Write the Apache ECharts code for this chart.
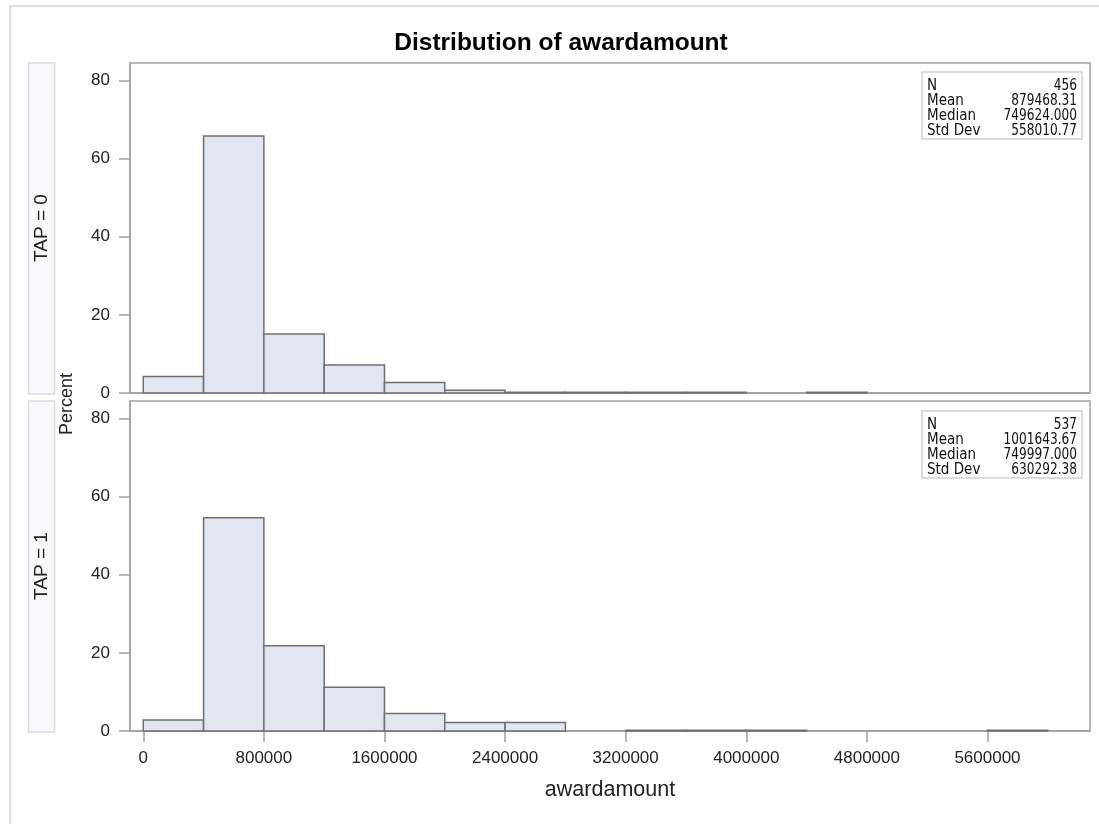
<!DOCTYPE html>
<html>
<head>
<meta charset="utf-8">
<script src="https://cdn.jsdelivr.net/npm/echarts@6/dist/echarts.min.js"></script>
<style>
  html, body { margin: 0; padding: 0; background: #ffffff; }
  #chart { width: 1099px; height: 824px; }
</style>
</head>
<body>
<div id="chart"></div>
<script>
// Histogram bin edges (awardamount)
const binEdges = [0, 400000, 800000, 1200000, 1600000, 2000000, 2400000, 2800000,
                  3200000, 3600000, 4000000, 4400000, 4800000, 5200000, 5600000, 6000000];

// Percent of awards in each bin, by TAP group
const pctTap0 = [4.2, 65.8, 15.1, 7.2, 2.7, 0.7, 0.22, 0.22, 0.22, 0.22, 0, 0.22, 0, 0, 0];
const pctTap1 = [2.8, 54.6, 21.8, 11.2, 4.5, 2.2, 2.2, 0, 0.19, 0.19, 0.19, 0, 0, 0, 0.19];

// Panel headers and summary statistics
const panelLabels = ['TAP = 0', 'TAP = 1'];
const statNames = ['N', 'Mean', 'Median', 'Std Dev'];
const statsTap0 = ['456', '879468.31', '749624.000', '558010.77'];
const statsTap1 = ['537', '1001643.67', '749997.000', '630292.38'];

// Axis ticks
const xTicks = [0, 800000, 1600000, 2400000, 3200000, 4000000, 4800000, 5600000];
const yTicks = [0, 20, 40, 60, 80];

const FONT = '"Liberation Sans", Arial, sans-serif';
const COND = '"DejaVu Sans Condensed", "DejaVu Sans", sans-serif';
const AXIS_GREY = '#a0a0a0';

function binData(pcts) {
  const out = [];
  pcts.forEach((p, i) => { if (p > 0) out.push([binEdges[i], binEdges[i + 1], p]); });
  return out;
}

function renderBin(params, api) {
  const topLeft = api.coord([api.value(0), api.value(2)]);
  const bottomRight = api.coord([api.value(1), 0]);
  return {
    type: 'rect',
    shape: {
      x: topLeft[0], y: topLeft[1],
      width: bottomRight[0] - topLeft[0],
      height: bottomRight[1] - topLeft[1]
    },
    style: { fill: '#e1e6f0', stroke: '#6d6f73', lineWidth: 1.5 }
  };
}

const grids = [
  { left: 130, top: 63, width: 960, height: 330 },
  { left: 130, top: 401, width: 960, height: 330 }
];

function xAxisFor(idx, showLabels) {
  return {
    type: 'value', gridIndex: idx, min: -88000, max: 6280000,
    splitLine: { show: false },
    axisLine: { show: true, onZero: false, lineStyle: { color: AXIS_GREY, width: 1.5 } },
    axisTick: { show: showLabels, length: 11, customValues: xTicks,
                lineStyle: { color: AXIS_GREY, width: 1.5 } },
    axisLabel: { show: showLabels, customValues: xTicks, margin: 19,
                 color: '#222', fontFamily: FONT, fontSize: 17,
                 formatter: v => String(v) },
    name: showLabels ? 'awardamount' : '',
    nameLocation: 'middle', nameGap: 48, nameMoveOverlap: false,
    nameTextStyle: { color: '#222', fontFamily: FONT, fontSize: 21.5 }
  };
}

function yAxisFor(idx) {
  return {
    type: 'value', gridIndex: idx, min: 0, max: 84.5,
    splitLine: { show: false },
    axisLine: { show: true, onZero: false, lineStyle: { color: AXIS_GREY, width: 1.5 } },
    axisTick: { show: true, length: 11, customValues: yTicks,
                lineStyle: { color: AXIS_GREY, width: 1.5 } },
    axisLabel: { customValues: yTicks, margin: 20, color: '#222',
                 fontFamily: FONT, fontSize: 17 }
  };
}

// Inset table of summary statistics, top-right of a panel
function statsBox(top, values) {
  const left = 922, right = 1082, rowH = 15;
  const children = [{
    type: 'rect',
    shape: { x: left, y: top, width: right - left, height: rowH * 4 + 7 },
    style: { fill: '#ffffff', stroke: '#cfcfcf', lineWidth: 1.5 }
  }];
  statNames.forEach((name, i) => {
    const cy = top + 14 + rowH * i;
    children.push({ type: 'text', x: left + 5, y: cy,
      style: { text: name, fill: '#111', font: '15px ' + COND,
               textAlign: 'left', textVerticalAlign: 'middle' } });
    children.push({ type: 'text', x: right - 5, y: cy, scaleX: 0.9,
      style: { text: values[i], fill: '#111', font: '15px ' + COND,
               textAlign: 'right', textVerticalAlign: 'middle' } });
  });
  return { type: 'group', children };
}

// Row header strip on the left of a panel
function strip(g, label) {
  return { type: 'group', children: [
    { type: 'rect', shape: { x: 28.5, y: g.top, width: 26, height: g.height + 1 },
      style: { fill: '#f8f9fe', stroke: '#d9dbe0', lineWidth: 1.5 } },
    { type: 'text', x: 42, y: g.top + g.height / 2, rotation: Math.PI / 2,
      style: { text: label, fill: '#222', font: '19px ' + FONT,
               textAlign: 'center', textVerticalAlign: 'middle' } }
  ]};
}

const chart = echarts.init(document.getElementById('chart'), null, { renderer: 'canvas' });
chart.setOption({
  animation: false,
  backgroundColor: '#ffffff',
  title: {
    text: 'Distribution of awardamount', left: 556, top: 25.5, textAlign: 'center',
    textStyle: { fontFamily: FONT, fontWeight: 'bold', fontSize: 24.5, color: '#000' }
  },
  grid: grids.map(g => Object.assign({ show: true, borderColor: AXIS_GREY, borderWidth: 1.5 }, g)),
  xAxis: [xAxisFor(0, false), xAxisFor(1, true)],
  yAxis: [yAxisFor(0), yAxisFor(1)],
  series: [
    { type: 'custom', xAxisIndex: 0, yAxisIndex: 0, renderItem: renderBin,
      encode: { x: [0, 1], y: 2 }, data: binData(pctTap0), silent: true },
    { type: 'custom', xAxisIndex: 1, yAxisIndex: 1, renderItem: renderBin,
      encode: { x: [0, 1], y: 2 }, data: binData(pctTap1), silent: true }
  ],
  graphic: [
    { type: 'rect', shape: { x: 10, y: 6, width: 1200, height: 900 },
      style: { fill: 'none', stroke: '#d4d4d4', lineWidth: 1.5 }, silent: true },
    strip(grids[0], panelLabels[0]),
    strip(grids[1], panelLabels[1]),
    { type: 'text', x: 67, y: 404, rotation: Math.PI / 2,
      style: { text: 'Percent', fill: '#222', font: '18px ' + FONT,
               textAlign: 'center', textVerticalAlign: 'middle' } },
    statsBox(72, statsTap0),
    statsBox(411, statsTap1)
  ]
});
</script>
</body>
</html>
